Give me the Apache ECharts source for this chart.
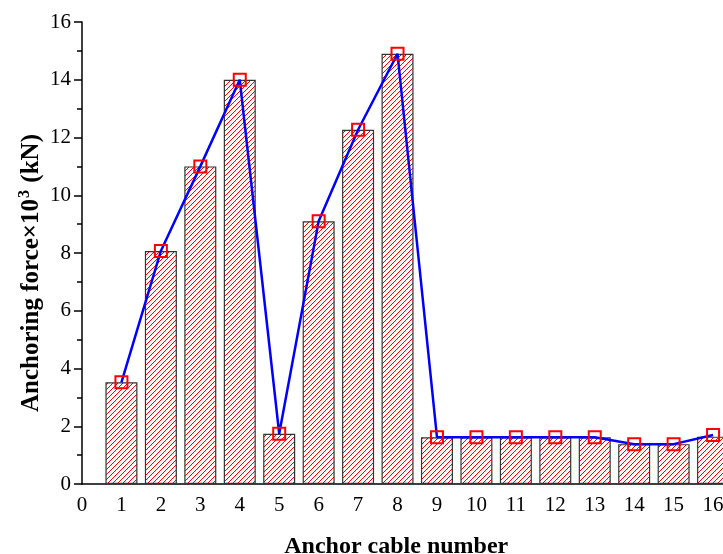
<!DOCTYPE html>
<html><head><meta charset="utf-8">
<script src="https://cdn.jsdelivr.net/npm/echarts@6/dist/echarts.min.js"></script>
<style>html,body{margin:0;padding:0;background:#fff}#c{width:723px;height:554px}</style>
</head><body><div id="c"></div>
<script>
const cables = [1,2,3,4,5,6,7,8,9,10,11,12,13,14,15,16];
const barValues = [3.52,8.07,11.0,14.0,1.74,9.1,12.27,14.9,1.62,1.62,1.62,1.62,1.62,1.38,1.38,1.64];
const lineValues = [3.52,8.07,11.0,14.0,1.74,9.1,12.27,14.9,1.62,1.62,1.62,1.62,1.62,1.38,1.38,1.7];
const xTicks = [0,1,2,3,4,5,6,7,8,9,10,11,12,13,14,15,16];
const yTicks = [0,2,4,6,8,10,12,14,16];

function hatch(){
  const s = 5, cv = document.createElement('canvas');
  cv.width = s; cv.height = s;
  const g = cv.getContext('2d');
  g.fillStyle = '#ffffff'; g.fillRect(0,0,s,s);
  g.fillStyle = '#ff0000';
  for (let y = 0; y < s; y++) {
    for (let x = 0; x < s; x++) {
      if ((x + y) % s === 0) g.fillRect(x, y, 1, 1);
    }
  }
  return cv;
}

const font = '"Liberation Serif","Times New Roman",serif';
const chart = echarts.init(document.getElementById('c'), null, {renderer:'canvas'});
chart.setOption({
  animation:false,
  grid:{left:82, right:-29.5, top:22, bottom:70, outerBoundsMode:'none', containLabel:false},
  xAxis:{type:'value', min:0, max:17, interval:1,
    axisLine:{lineStyle:{color:'#000', width:1.5}},
    axisTick:{show:false}, splitLine:{show:false},
    axisLabel:{color:'#000', fontFamily:font, fontSize:21, margin:11,
      formatter:v=> xTicks.indexOf(v)>=0 ? String(v) : ''},
    name:'Anchor cable number', nameLocation:'middle', nameGap:51, nameMoveOverlap:false,
    nameTextStyle:{color:'#000', fontFamily:font, fontSize:24, fontWeight:'bold', padding:[0,42,0,0]}
  },
  yAxis:{type:'value', min:0, max:16, interval:2,
    axisLine:{show:true, lineStyle:{color:'#000', width:1.5}},
    axisTick:{show:true, inside:false, length:8, lineStyle:{color:'#000', width:1.5}},
    minorTick:{show:true, splitNumber:2, length:5, lineStyle:{color:'#000', width:1.5}},
    splitLine:{show:false},
    axisLabel:{color:'#000', fontFamily:font, fontSize:21, margin:11,
      formatter:v=> yTicks.indexOf(v)>=0 ? String(v) : ''},
    name:'{n|Anchoring force×10}{s|3}{n| (kN)}', nameLocation:'middle', nameGap:38, nameMoveOverlap:false,
    nameTextStyle:{color:'#000', fontFamily:font, fontSize:25, fontWeight:'bold', padding:[0,40,0,0],
      rich:{n:{fontFamily:font, fontSize:25, fontWeight:'bold', color:'#000', verticalAlign:'bottom', lineHeight:27},
            s:{fontFamily:font, fontSize:16, fontWeight:'bold', color:'#000', verticalAlign:'top', lineHeight:27, padding:[0,1,10,1]}}}
  },
  series:[
    {type:'bar', data:cables.map((c,i)=>[c,barValues[i]]), barWidth:32,
      itemStyle:{color:{image:hatch(), repeat:'repeat'}, borderColor:'#333', borderWidth:1.2}},
    {type:'line', data:cables.map((c,i)=>[c,lineValues[i]]),
      lineStyle:{color:'#0000ff', width:2.5},
      symbol:'rect', symbolSize:12, showAllSymbol:true,
      itemStyle:{color:'rgba(255,255,255,0)', borderColor:'#ff0000', borderWidth:2}}
  ]
});
</script></body></html>
